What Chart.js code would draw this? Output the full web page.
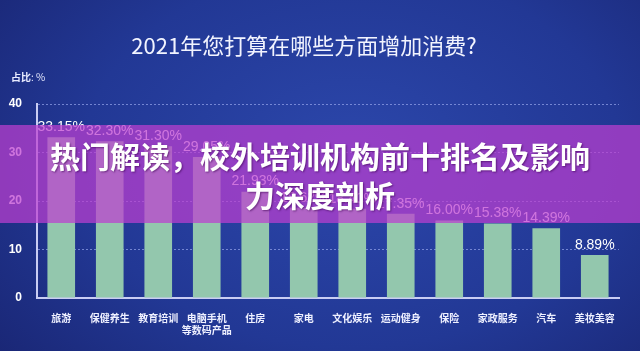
<!DOCTYPE html>
<html>
<head>
<meta charset="utf-8">
<script src="https://cdn.jsdelivr.net/npm/chart.js@4"></script>
<style>
  html, body { margin: 0; padding: 0; }
  body {
    width: 640px; height: 351px; overflow: hidden; position: relative;
    background: radial-gradient(ellipse 70% 90% at 55% 45%, #2c47ab 0%, #223895 60%, #1a2776 100%);
    font-family: "Noto Sans CJK SC", "Noto Sans", sans-serif;
  }
  #wrap { position: absolute; left: 0; top: 0; width: 640px; height: 351px; }
  .title {
    position: absolute; left: 0; width: 608px; top: 30px; text-align: center;
    color: #f2f4ff; font-size: 22px; line-height: 28px;
  }
  .unit {
    position: absolute; left: 11px; top: 69px; color: #e8ebff; font-size: 10px;
  }
  .unit b { font-weight: 700; }
  .banner {
    position: absolute; left: 0; top: 125px; width: 640px; height: 98px;
    background: rgba(188, 62, 208, 0.72);
  }
  .banner div {
    width: 550px; margin: 0 auto; padding-top: 11px; text-align: center;
    color: #fff; font-size: 30px; font-weight: 700; line-height: 39px;
    text-shadow: 1px 1px 2px rgba(60, 0, 80, 0.6);
  }
</style>
</head>
<body>
<div id="wrap"><canvas id="chart" width="640" height="351"></canvas></div>
<div class="title">2021年您打算在哪些方面增加消费?</div>
<div class="unit"><b>占比</b>: %</div>
<div class="banner"><div>热门解读，校外培训机构前十排名及影响力深度剖析</div></div>
<script>
// chart data
const categories = ['旅游', '保健养生', '教育培训', ['电脑手机', '等数码产品'], '住房', '家电',
    '文化娱乐', '运动健身', '保险', '家政服务', '汽车', '美妆美容'];
const shares = [33.15, 32.30, 31.30, 29.05, 21.93, 18.62, 18.40, 17.35, 16.00, 15.38, 14.39, 8.89];
const yTicks = [0, 10, 20, 30, 40];

// value labels above the bars
const valueLabels = {
    id: 'valueLabels',
    afterDatasetsDraw(chart) {
        const ctx = chart.ctx;
        const meta = chart.getDatasetMeta(0);
        ctx.save();
        ctx.fillStyle = '#ffffff';
        ctx.font = '14px "Liberation Sans", Arial, sans-serif';
        ctx.textAlign = 'center';
        ctx.textBaseline = 'bottom';
        meta.data.forEach((bar, i) => {
            ctx.fillText(shares[i].toFixed(2) + '%', bar.x, bar.y - 3);
        });
        ctx.restore();
    }
};

new Chart(document.getElementById('chart'), {
    type: 'bar',
    data: {
        labels: categories,
        datasets: [{
            data: shares,
            backgroundColor: '#93c7ad',
            barPercentage: 0.57,
            categoryPercentage: 1
        }]
    },
    options: {
        responsive: false,
        animation: false,
        layout: { padding: { top: 104, right: 21, left: 0, bottom: 0 } },
        plugins: {
            legend: { display: false },
            tooltip: { enabled: false }
        },
        scales: {
            x: {
                grid: { display: false },
                border: { display: true, color: '#c9cdf3', width: 2 },
                ticks: {
                    color: '#eef0ff',
                    font: { size: 10, weight: 'bold', family: '"Noto Sans CJK SC", sans-serif' },
                    padding: 6,
                    maxRotation: 0,
                    autoSkip: false
                },
                afterFit(scale) { scale.height = 53; }
            },
            y: {
                min: 0,
                max: 40,
                afterBuildTicks(scale) { scale.ticks = yTicks.map(v => ({ value: v })); },
                grid: {
                    drawTicks: false,
                    color: c => c.tick && c.tick.value === 0 ? 'rgba(0,0,0,0)' : 'rgba(150,165,235,0.7)',
                    lineWidth: 1
                },
                border: { display: true, color: '#c9cdf3', width: 2, dash: [2, 2] },
                ticks: {
                    color: '#ffffff',
                    font: { size: 12, weight: 'bold', family: '"Liberation Sans", Arial, sans-serif' },
                    padding: 15
                },
                afterFit(scale) { scale.width = 37; }
            }
        }
    },
    plugins: [valueLabels]
});
</script>
</body>
</html>
